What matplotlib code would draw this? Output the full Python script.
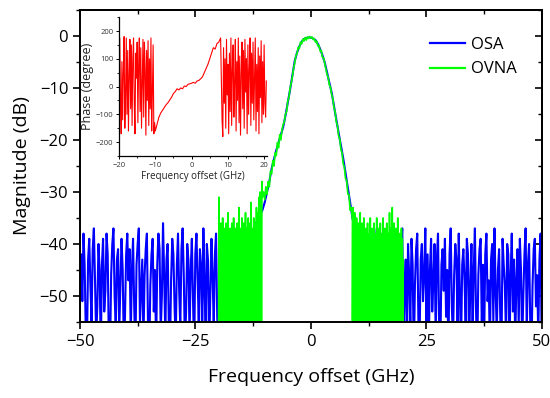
import numpy as np
import matplotlib
matplotlib.use("Agg")
import matplotlib.pyplot as plt
from matplotlib.ticker import MultipleLocator

plt.rcParams['font.family'] = ['Open Sans', 'DejaVu Sans']

# ---------------- data ----------------
# OSA (blue): left noise floor, main lobe, right noise floor
osa_left_range = (-50.0, -12.3)
osa_left = [-46,-42,-51,-38,-44,-57,-60,-43,-39,-48,-55,-41,-37,-47,-58,-52,-40,-45,-61,
            -44,-39,-53,-49,-38,-42,-59,-62,-46,-40,-37,-50,-56,-43,-41,-57,-48,-39,-45,
            -60,-54,-42,-38,-47,-41,-58,-45,-39,-52,-61,-44,-40,-37,-55,-49,-43,-59,-46,
            -41,-38,-56,-62,-48,-42,-39,-53,-45,-60,-44,-38,-41,-57,-50,-36,-46,-58,-43,
            -40,-55,-61,-47,-39,-42,-52,-59,-44,-38,-49,-56,-41,-37,-46,-60,-53,-40,-43,
            -58,-45,-39,-51,-62,-42,-38,-47,-55,-41,-44,-59,-37,-48,-57,-40,-43,-61,-50,
            -39,-46,-56,-42,-38,-54,-60,-44,-41,-49,-37,-58,-45,-40,-52,-62,-43,-39,-47,
            -55,-41,-38,-59,-48,-44,-61,-40,-46,-53,-39,-57,-42,-37,-50,-56,-45,-41,-60]
osa_peak_range = (-12.0, 12.0)
osa_peak = [-36,-35.5,-34.5,-33.5,-32,-30,-28,-25.5,-23.7,-22,-20.5,-19,-17.5,-15.3,-12.8,-10.3,
            -7.5,-4.8,-3.2,-2.0,-1.1,-0.6,-0.4,-0.3,-0.3,-0.5,-0.8,-1.5,-2.5,-3.7,-5.1,-7.0,
            -9.0,-10.9,-13.5,-16.0,-18.6,-21.0,-23.5,-26.3,-29.0,-32.0,-35.0,-37,-38,-39.5,-41,-42,-43]
osa_right_range = (12.3, 50.0)
osa_right = [-42,-58,-45,-39,-52,-61,-44,-40,-37,-55,-48,-43,-59,-41,-38,-50,-62,-46,-40,
             -54,-44,-38,-57,-47,-42,-60,-39,-45,-53,-41,-37,-58,-49,-43,-61,-40,-46,-56,
             -39,-44,-62,-48,-41,-38,-55,-59,-43,-40,-51,-46,-37,-57,-42,-60,-45,-39,-53,
             -47,-40,-58,-43,-38,-56,-61,-44,-41,-49,-39,-54,-45,-62,-42,-37,-52,-59,-46,
             -40,-43,-57,-38,-50,-60,-44,-41,-47,-55,-39,-42,-61,-48,-40,-58,-45,-37,-53,
             -62,-46,-41,-39,-56,-44,-59,-42,-38,-51,-47,-60,-43,-40,-55,-37,-49,-57,-45,
             -41,-54,-62,-39,-44,-48,-58,-40,-42,-61,-46,-38,-53,-43,-59,-47,-41,-56,-39,
             -45,-60,-50,-42,-37,-57,-44,-40,-55,-62,-48,-41,-39,-52,-46,-58,-43,-38,-61]

# OVNA (green): left noise, main lobe, right noise
ovna_left_range = (-20.0, -10.6)
ovna_left = [-58,-31,-57,-38,-60,-36,-56,-40,-59,-35,-57,-39,-58,-37,-61,-41,-56,-36,-59,-38,
             -57,-34,-60,-39,-58,-37,-56,-40,-59,-36,-57,-38,-60,-35,-58,-41,-56,-37,-59,-39,
             -57,-36,-61,-38,-58,-33,-56,-40,-59,-37,-57,-35,-60,-39,-58,-36,-56,-38,-59,-34,
             -57,-37,-60,-40,-58,-35,-56,-38,-59,-36,-57,-32,-61,-39,-58,-37,-56,-35,-59,-38,
             -57,-36,-60,-33,-58,-39,-56,-34,-59,-31,-57,-30,-60,-31,-58,-28]
ovna_peak_range = (-10.5, 9.0)
ovna_peak = [-31,-30,-31.5,-29,-30.5,-28,-29,-26,-26.5,-24,-25,-22.5,-23,-20.5,-21.5,-19,-20,-18,
             -17,-16.5,-15,-14.5,-12.5,-11.8,-10,-9,-7.8,-6.2,-5.2,-3.8,-3.4,-2.2,-2.4,-1.2,-1.5,
             -0.6,-1.0,-0.3,-0.8,-0.2,-0.5,-0.1,-0.4,-0.2,-0.7,-0.5,-1.2,-1.0,-1.9,-1.8,-2.9,-2.8,
             -4.1,-4.2,-5.3,-6.4,-7.4,-8.0,-9.4,-9.9,-11.3,-12.0,-13.8,-14.6,-16.5,-17.2,-19.2,
             -19.8,-21.8,-22.5,-24.6,-25.2,-27.4,-27.8,-30.4,-30.5,-33.5,-33,-35.5]
ovna_right_range = (9.0, 20.0)
ovna_right = [-57,-33,-59,-36,-56,-34,-60,-38,-58,-35,-57,-39,-59,-36,-56,-37,-61,-34,-58,-40,
              -57,-36,-59,-38,-56,-35,-60,-41,-58,-37,-57,-39,-59,-36,-56,-42,-60,-38,-58,-35,
              -57,-40,-59,-37,-56,-39,-61,-36,-58,-41,-57,-38,-59,-35,-56,-40,-60,-37,-58,-39,
              -57,-36,-59,-42,-56,-38,-60,-35,-58,-40,-57,-37,-59,-39,-56,-36,-61,-41,-58,-38,
              -57,-34,-59,-37,-56,-40,-60,-33,-58,-38,-57,-36,-59,-41,-56,-37,-60,-39,-58,-35,
              -57,-40,-59,-38,-56,-42,-60,-37,-58,-39,-57,-43]

# Inset phase (red)
phase_left_range = (-20.0, -10.2)
phase_left = [20,175,-40,-170,90,-120,60,180,-150,-30,175,-100,130,-160,40,170,-80,150,-140,100,
              175,-60,-170,120,30,160,-130,80,175,-90,140,-150,10,170,-110,160,60,-175,130,-50,
              165,-140,100,-80,175,-160,-20,150,-170,-130]
phase_mid_range = (-10.0, 8.0)
phase_mid = [-160,-135,-110,-95,-85,-75,-65,-58,-48,-38,-25,-18,-8,-12,-5,-8,2,0,8,10,12,15,12,
             20,22,28,35,50,65,80,100,120,140,135,155,160,175]
phase_right_range = (8.4, 20.6)
phase_right = [-120,-180,140,-60,100,-150,170,-30,80,-170,120,-90,175,-140,60,150,-110,20,170,-160,
               90,-50,175,-130,110,-175,40,160,-80,130,-150,170,-20,100,-170,150,-100,60,175,-140,
               120,-60,160,-120,30,175,-160,80,-90,140,-170,110,-40,165,-130,90,-100,150,-60,-110,20]


def seg(rng, vals):
    return np.linspace(rng[0], rng[1], len(vals)), np.asarray(vals, float)


osa_x = np.concatenate([seg(osa_left_range, osa_left)[0], seg(osa_peak_range, osa_peak)[0],
                        seg(osa_right_range, osa_right)[0]])
osa_y = np.concatenate([osa_left, osa_peak, osa_right])
ovna_x = np.concatenate([seg(ovna_left_range, ovna_left)[0], seg(ovna_peak_range, ovna_peak)[0],
                         seg(ovna_right_range, ovna_right)[0]])
ovna_y = np.concatenate([ovna_left, ovna_peak, ovna_right])
ph_x = np.concatenate([seg(phase_left_range, phase_left)[0], seg(phase_mid_range, phase_mid)[0],
                       seg(phase_right_range, phase_right)[0]])
ph_y = np.concatenate([phase_left, phase_mid, phase_right])

# ---------------- figure ----------------
fig = plt.figure(figsize=(5.5, 3.98), dpi=100)
ax = fig.add_axes([0.1455, 0.191, 0.8395, 0.784])

ax.plot(osa_x, osa_y, color='#0000ff', lw=1.5, label='OSA')
ax.plot(ovna_x, ovna_y, color='#00ff00', lw=1.2, label='OVNA')

ax.set_xlim(-50, 50)
ax.set_ylim(-55, 5)
ax.xaxis.set_major_locator(MultipleLocator(25))
ax.xaxis.set_minor_locator(MultipleLocator(12.5))
ax.yaxis.set_major_locator(MultipleLocator(10))
ax.yaxis.set_minor_locator(MultipleLocator(5))
ax.tick_params(which='major', direction='out', length=5, width=1.2, labelsize=12, colors='black')
ax.tick_params(which='minor', direction='out', length=3, width=1.0)
for s in ax.spines.values():
    s.set_linewidth(1.4)

sec = ax.secondary_xaxis('top')
sec.xaxis.set_major_locator(MultipleLocator(25))
sec.xaxis.set_minor_locator(MultipleLocator(12.5))
sec.tick_params(which='major', direction='in', length=5, width=1.2, labeltop=False)
sec.tick_params(which='minor', direction='in', length=3, width=1.0)
sec.spines['top'].set_linewidth(1.4)
sec = ax.secondary_yaxis('right')
sec.yaxis.set_major_locator(MultipleLocator(10))
sec.yaxis.set_minor_locator(MultipleLocator(5))
sec.tick_params(which='major', direction='in', length=5, width=1.2, labelright=False)
sec.tick_params(which='minor', direction='in', length=3, width=1.0)
sec.spines['right'].set_linewidth(1.4)

ax.set_xlabel('Frequency offset (GHz)', fontsize=14, labelpad=13)
ax.set_ylabel('Magnitude (dB)', fontsize=14, labelpad=6)

leg = ax.legend(loc='upper left', bbox_to_anchor=(0.759, 0.913), frameon=False, fontsize=12,
                handlelength=2.1, handletextpad=0.35, labelspacing=0.5, borderpad=0, borderaxespad=0)
for l in leg.get_lines():
    l.set_linewidth(1.6)

# ---------------- inset ----------------
ins = fig.add_axes([0.2164, 0.608, 0.2685, 0.349])
ins.plot(ph_x, ph_y, color='#ff0000', lw=0.8)
ins.set_xlim(-20, 20.7)
ins.set_ylim(-250, 250)
ins.xaxis.set_major_locator(MultipleLocator(10))
ins.xaxis.set_minor_locator(MultipleLocator(5))
ins.yaxis.set_major_locator(MultipleLocator(100))
ins.yaxis.set_minor_locator(MultipleLocator(50))
ins.spines['top'].set_visible(False)
ins.spines['right'].set_visible(False)
for s in ('left', 'bottom'):
    ins.spines[s].set_linewidth(0.9)
ins.tick_params(which='major', direction='out', length=2.5, width=0.7, labelsize=5.5,
                labelcolor='#333333', pad=1.5)
ins.tick_params(which='minor', direction='out', length=1.5, width=0.6)
ins.set_xlabel('Frequency offset (GHz)', fontsize=7, labelpad=2, color='#222222')
ins.set_ylabel('Phase (degree)', fontsize=9, labelpad=1, color='#222222')

fig.savefig('out.png', dpi=100)
